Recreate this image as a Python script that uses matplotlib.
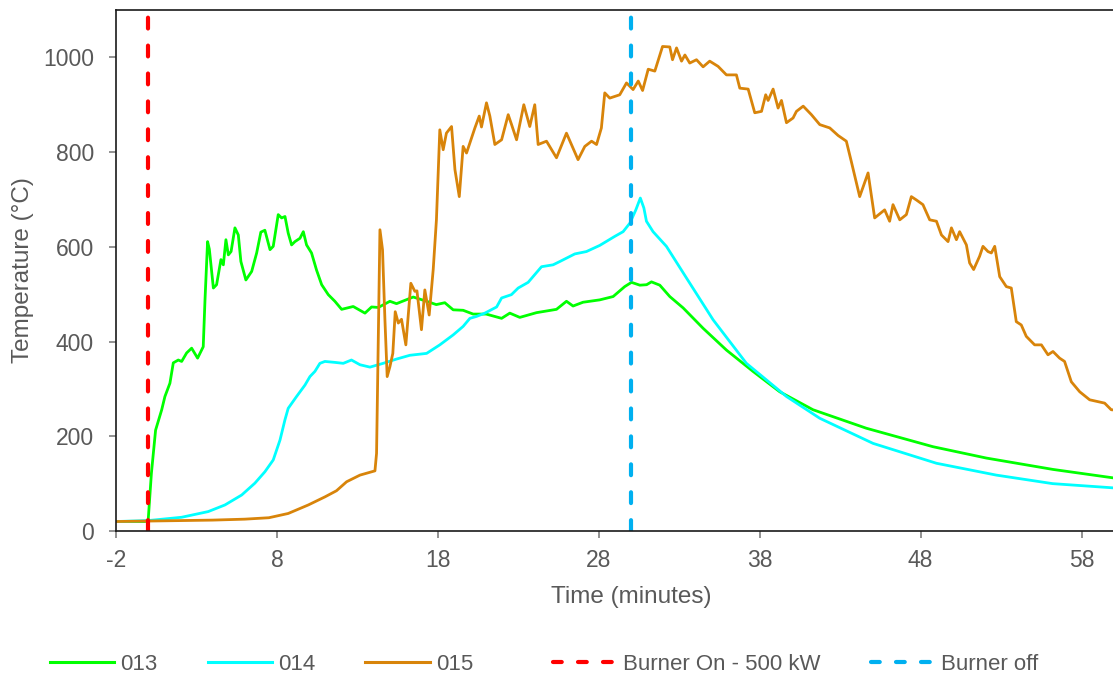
import matplotlib
matplotlib.use("Agg")
import matplotlib.pyplot as plt
from matplotlib.lines import Line2D

plt.rcParams['font.family'] = ['Liberation Sans', 'DejaVu Sans']

# ---- data ----
t_013 = [-2, -1, -0.2, 0, 0.2, 0.46, 0.84, 1.04, 1.35, 1.56, 1.87, 2.08, 2.39, 2.7, 3.07, 3.42, 3.53, 3.69, 3.8,
         4.05, 4.25, 4.52, 4.67, 4.83, 4.98, 5.15, 5.39, 5.6, 5.76, 6.07, 6.43, 6.74, 7.0, 7.25, 7.57, 7.77, 8.08,
         8.29, 8.5, 8.7, 8.91, 9.12, 9.43, 9.64, 9.84, 10.15, 10.46, 10.78, 11.19, 11.6, 12.02, 12.74, 13.47, 13.88,
         14.3, 15.02, 15.43, 16.47, 17.3, 17.9, 18.43, 18.95, 19.57, 20.19, 21.0, 21.96, 22.47, 23.09, 24.13, 25.37,
         25.99, 26.4, 27.02, 28.06, 28.89, 29.61, 30.03, 30.55, 30.97, 31.27, 31.79, 32.41, 33.24, 34.48, 35.93,
         37.58, 39.24, 41.31, 44.62, 48.76, 52.08, 56.22, 60.0]
T_013 = [20, 20, 20, 23, 122, 213, 256, 284, 312, 355, 361, 358, 376, 386, 365, 389, 488, 611, 595,
         513, 520, 573, 562, 615, 583, 590, 640, 625, 569, 530, 548, 587, 631, 635, 594, 601, 668,
         661, 664, 629, 604, 611, 618, 632, 604, 587, 551, 520, 499, 485, 468, 474, 460, 473,
         472, 485, 480, 494, 485, 478, 482, 467, 466, 458, 458, 449, 460, 451, 461, 468,
         485, 475, 483, 488, 495, 516, 525, 519, 520, 526, 519, 495, 471, 428, 382,
         337, 294, 256, 217, 178, 154, 130, 112]

t_014 = [-2, 0, 2.08, 3.73, 4.77, 5.81, 6.63, 7.25, 7.77, 8.19, 8.5, 8.7, 9.22, 9.74, 10.05, 10.36, 10.67, 10.98,
         11.6, 12.12, 12.63, 13.16, 13.78, 14.6, 15.43, 16.26, 17.3, 18.12, 18.95, 19.57, 19.99, 20.4, 20.92,
         21.65, 21.96, 22.57, 22.99, 23.61, 24.44, 25.16, 25.58, 26.51, 27.23, 28.06, 28.99, 29.51, 29.93, 30.3,
         30.58, 30.8, 30.96, 31.37, 32.2, 33.45, 35.1, 37.17, 39.66, 41.73, 45.04, 48.98, 52.7, 56.2, 60.0]
T_014 = [20, 22, 29, 41, 55, 76, 101, 125, 150, 192, 235, 259, 284, 308, 326, 337, 354, 358,
         356, 354, 361, 351, 346, 354, 363, 371, 375, 393, 414, 432, 449, 453, 460,
         473, 492, 499, 513, 525, 558, 562, 569, 585, 590, 603, 622, 632, 650, 678,
         703, 682, 654, 632, 601, 534, 446, 354, 284, 238, 185, 143, 118, 100, 91]

t_015 = [-2, 0, 2, 4, 6, 7.5, 8.7, 9.95, 10.98, 11.7, 12.33, 13.16, 14.09, 14.19, 14.4, 14.56, 14.71, 14.85,
         15.02, 15.2, 15.35, 15.54, 15.74, 16.01, 16.16, 16.32, 16.57, 16.7, 16.98, 17.19, 17.46, 17.71, 17.91,
         18.12, 18.33, 18.53, 18.85, 19.06, 19.33, 19.57, 19.78, 20.3, 20.57, 20.71, 21.02, 21.23, 21.54, 21.96,
         22.37, 22.58, 22.89, 23.34, 23.71, 24.02, 24.23, 24.75, 25.37, 25.99, 26.71, 27.13, 27.55, 27.86, 28.16,
         28.37, 28.68, 29.3, 29.72, 30.13, 30.45, 30.72, 31.07, 31.48, 31.96, 32.41, 32.58, 32.83, 33.14, 33.35,
         33.65, 34.07, 34.48, 34.89, 35.41, 35.93, 36.55, 36.76, 37.28, 37.69, 38.11, 38.37, 38.52, 38.83, 39.14,
         39.35, 39.66, 40.07, 40.28, 40.7, 41.21, 41.73, 42.35, 42.87, 43.38, 43.69, 44.21, 44.73, 45.14, 45.76,
         46.07, 46.28, 46.7, 47.11, 47.42, 47.73, 48.14, 48.56, 48.98, 49.29, 49.7, 49.91, 50.22, 50.42, 50.84,
         51.04, 51.29, 51.66, 51.87, 52.18, 52.39, 52.6, 52.91, 53.32, 53.63, 53.94, 54.25, 54.56, 55.08, 55.5,
         55.91, 56.22, 56.63, 56.94, 57.36, 57.88, 58.5, 59.43, 59.84, 60.2]
T_015 = [20, 21, 22, 23, 25, 28, 37, 55, 72, 85, 104, 118, 127, 164, 636, 594, 446, 326,
         347, 375, 463, 439, 447, 393, 456, 523, 506, 507, 425, 509, 456, 552, 657,
         847, 805, 840, 854, 763, 706, 812, 798, 851, 876, 853, 904, 876, 816, 826,
         879, 858, 826, 900, 854, 900, 816, 823, 788, 840, 784, 812, 823, 816, 851,
         925, 914, 921, 946, 932, 950, 930, 975, 971, 1023, 1022, 995, 1020, 992, 1005,
         988, 995, 980, 992, 981, 963, 963, 935, 933, 883, 886, 921, 909, 933, 893,
         909, 862, 872, 886, 897, 879, 858, 851, 835, 823, 780, 706, 756, 661, 678,
         654, 689, 657, 668, 706, 699, 689, 657, 654, 625, 611, 640, 615, 632, 604,
         566, 552, 580, 601, 590, 587, 601, 537, 516, 513, 442, 435, 411, 393, 393,
         372, 379, 365, 358, 315, 294, 277, 270, 256, 255]

burner_on = 0
burner_off = 30
x_ticks = [-2, 8, 18, 28, 38, 48, 58]
y_ticks = [0, 200, 400, 600, 800, 1000]

# ---- figure ----
W, H = 1113, 680
fig = plt.figure(figsize=(W / 100, H / 100), dpi=100)
left, right, bottom, top = 116, 1146, 531, 10
ax = fig.add_axes([left / W, 1 - bottom / H, (right - left) / W, (bottom - top) / H])

c13, c14, c15 = '#00FF00', '#00FFFF', '#D8840A'
cred, cblue = '#FF0000', '#00B0F0'
lw = 2.0

ax.plot(t_013, T_013, color=c13, lw=lw, label='013', solid_joinstyle='round')
ax.plot(t_014, T_014, color=c14, lw=lw, label='014', solid_joinstyle='round')
ax.plot(t_015, T_015, color=c15, lw=lw, label='015', solid_joinstyle='round')

dash_lw = 3.0
ax.axvline(burner_on, color=cred, lw=dash_lw, dashes=(2.6, 4.1), dash_capstyle='round',
           label='Burner On - 500 kW')
ax.axvline(burner_off, color=cblue, lw=dash_lw, dashes=(2.6, 4.1), dash_capstyle='round',
           label='Burner off')

ax.set_xlim(-2, 62)
ax.set_ylim(0, 1100)
ax.set_xticks(x_ticks)
ax.set_xticklabels([str(v) for v in x_ticks])
ax.set_yticks(y_ticks)

grey = '#595959'
ax.tick_params(axis='both', colors='#7f7f7f', labelcolor=grey, labelsize=16.5, length=5, width=1.2, direction='out')
ax.tick_params(axis='x', pad=8)
ax.tick_params(axis='y', pad=11)
for s in ['left', 'bottom', 'top']:
    ax.spines[s].set_color('#1a1a1a')
    ax.spines[s].set_linewidth(1.2)
ax.spines['right'].set_visible(False)

ax.set_xlabel('Time (minutes)', fontsize=17.5, color=grey, labelpad=10)
ax.set_ylabel('Temperature (°C)', fontsize=17.5, color=grey, labelpad=6)

h_series = [Line2D([], [], color=c13, lw=2.2),
            Line2D([], [], color=c14, lw=2.2),
            Line2D([], [], color=c15, lw=2.2)]
h_burner = [Line2D([], [], color=cred, lw=3, dashes=(2.1, 3.9), dash_capstyle='round'),
            Line2D([], [], color=cblue, lw=3, dashes=(2.1, 3.9), dash_capstyle='round')]
leg_kw = dict(frameon=False, fontsize=16, handlelength=2.9, handletextpad=0.27,
              columnspacing=2.25, labelcolor=grey, borderpad=0, borderaxespad=0)
legA = fig.legend(h_series, ['013', '014', '015'], loc='center left',
                  bbox_to_anchor=(50 / W, 1 - 664 / H), ncol=3, **leg_kw)
legB = fig.legend(h_burner, ['Burner On - 500 kW', 'Burner off'], loc='center left',
                  bbox_to_anchor=(553 / W, 1 - 664 / H), ncol=2, **leg_kw)

fig.savefig('out.png', dpi=100)
